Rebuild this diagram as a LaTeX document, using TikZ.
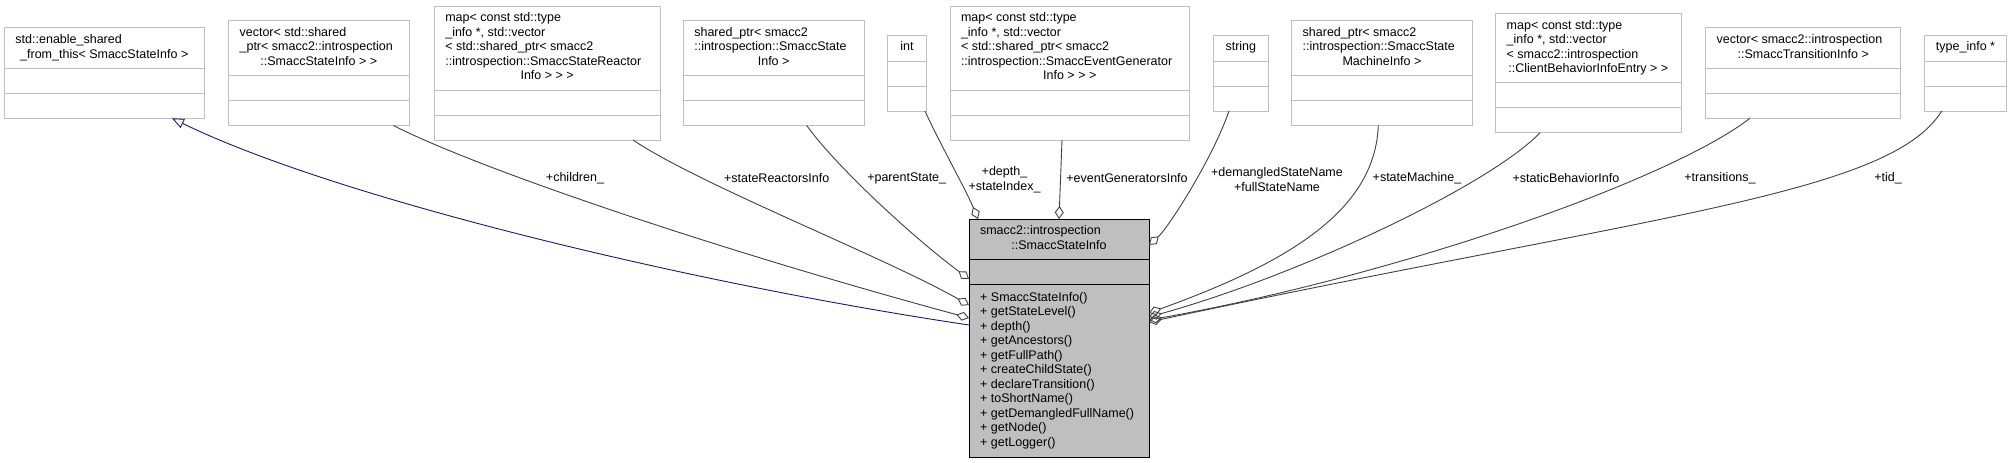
\documentclass[tikz,border=0pt]{standalone}
\usepackage{fontspec}
\setmainfont{Liberation Sans}
\usetikzlibrary{arrows.meta}
\definecolor{edgec}{HTML}{404040}
\definecolor{framec}{HTML}{BFBFBF}
\definecolor{mainfill}{HTML}{BFBFBF}
\definecolor{inhc}{HTML}{191970}
\newlength\hw
\newcommand\Ln[1]{\makebox[\hw][l]{#1}}
\newcommand\Cn[1]{\makebox[\hw][c]{#1}}
\newcommand\dfont{\fontsize{12.5}{14.5}\selectfont}
\tikzset{
  classbox/.style={draw=framec, line width=1pt, fill=white, inner sep=0pt, outer sep=0pt},
  mainbox/.style={draw=black, line width=1pt, fill=mainfill, inner sep=0pt, outer sep=0pt},
  sepline/.style={draw=framec, line width=1pt},
  mainsep/.style={draw=black, line width=1pt},
  hdr/.style={inner sep=0pt, font=\dfont, anchor=center},
  lbl/.style={inner sep=0pt, font=\dfont, align=center},
  assoc/.style={draw=edgec, line width=0.9pt, -{Diamond[open, length=13pt, width=9pt, line width=0.9pt]}},
  inherit/.style={draw=inhc, line width=0.9pt, -{Triangle[open, length=12pt, width=10pt, line width=0.9pt]}},
}
% #1 name, #2 x1, #3 x2, #4 number of header lines, #5 header text
\newcommand\umlbox[5]{%
  \pgfmathsetmacro\bt{42.25-7.25*#4}%
  \pgfmathsetmacro\bs{53.75+7.25*#4}%
  \pgfmathsetmacro\bb{103.75+7.25*#4}%
  \pgfmathsetmacro\bw{#3-#2}%
  \pgfmathsetmacro\bh{\bb-\bt}%
  \node[classbox, anchor=north west, minimum width=\bw pt, minimum height=\bh pt] (#1) at (#2,\bt) {};
  \draw[sepline] (#2,\bs) -- (#3,\bs);
  \draw[sepline] (#2,\bs+25) -- (#3,\bs+25);
  \node[hdr] at ({(#2+#3)/2},{(\bt+\bs)/2}) {\setlength\hw{\dimexpr\bw pt-22pt\relax}\begin{tabular}{@{}l@{}}#5\end{tabular}};
}
\begin{document}
\begin{tikzpicture}[x=1pt, y=-1pt]
\useasboundingbox (0,0) rectangle (2013,463);

\umlbox{b1}{4.5}{204}{2}{\Ln{std::enable\_shared}\\\Cn{\_from\_this< SmaccStateInfo >}}
\umlbox{b2}{228.6}{409}{3}{\Ln{vector< std::shared}\\\Ln{\_ptr< smacc2::introspection}\\\Cn{::SmaccStateInfo > >}}
\umlbox{b3}{434.3}{660}{5}{\Ln{map< const std::type}\\\Ln{\_info *, std::vector}\\\Ln{< std::shared\_ptr< smacc2}\\\Ln{::introspection::SmaccStateReactor}\\\Cn{Info > > >}}
\umlbox{b4}{683.3}{864}{3}{\Ln{shared\_ptr< smacc2}\\\Ln{::introspection::SmaccState}\\\Cn{Info >}}
\umlbox{b5}{887.3}{926.7}{1}{\Cn{int}}
\umlbox{b6}{950}{1189.5}{5}{\Ln{map< const std::type}\\\Ln{\_info *, std::vector}\\\Ln{< std::shared\_ptr< smacc2}\\\Ln{::introspection::SmaccEventGenerator}\\\Cn{Info > > >}}
\umlbox{b7}{1213.3}{1268.3}{1}{\Cn{string}}
\umlbox{b8}{1291.7}{1472.3}{3}{\Ln{shared\_ptr< smacc2}\\\Ln{::introspection::SmaccState}\\\Cn{MachineInfo >}}
\umlbox{b9}{1495.7}{1681}{4}{\Ln{map< const std::type}\\\Ln{\_info *, std::vector}\\\Ln{< smacc2::introspection}\\\Cn{::ClientBehaviorInfoEntry > >}}
\umlbox{b10}{1705.7}{1900.7}{2}{\Ln{vector< smacc2::introspection}\\\Cn{::SmaccTransitionInfo >}}
\umlbox{b11}{1924.3}{2006.7}{1}{\Cn{type\_info *}}

% main class
\node[mainbox, anchor=north west, minimum width=180pt, minimum height=238pt] (main) at (969,219) {};
\draw[mainsep] (969,259) -- (1149,259);
\draw[mainsep] (969,284.5) -- (1149,284.5);
\node[hdr] at (1059,239) {\setlength\hw{158pt}\begin{tabular}{@{}l@{}}\Ln{smacc2::introspection}\\\Cn{::SmaccStateInfo}\end{tabular}};
\node[hdr, anchor=west] at (980,370.75) {\setlength\hw{158pt}\begin{tabular}{@{}l@{}}\Ln{+ SmaccStateInfo()}\\\Ln{+ getStateLevel()}\\\Ln{+ depth()}\\\Ln{+ getAncestors()}\\\Ln{+ getFullPath()}\\\Ln{+ createChildState()}\\\Ln{+ declareTransition()}\\\Ln{+ toShortName()}\\\Ln{+ getDemangledFullName()}\\\Ln{+ getNode()}\\\Ln{+ getLogger()}\end{tabular}};

% connectors
\draw[inherit] ([yshift=-106pt]main.north west) .. controls (700,285) and (340,200) .. ([xshift=167.5pt]b1.south west);
\draw[assoc] ([xshift=164.9pt]b2.south west) .. controls (470,165) and (700,245) .. ([yshift=-99pt]main.north west);
\draw[assoc] ([xshift=198.7pt]b3.south west) .. controls (700,185) and (880,255) .. ([yshift=-86pt]main.north west);
\draw[assoc] ([xshift=123.4pt]b4.south west) .. controls (835,165) and (910,235) .. ([yshift=-60pt]main.north west);
\draw[assoc] ([xshift=37.7pt]b5.south west) .. controls (938,140) and (966,190) .. ([xshift=9pt]main.north west);
\draw[assoc] ([xshift=112pt]b6.south west) -- ([xshift=90pt]main.north west);
\draw[assoc] ([xshift=15.7pt]b7.south west) .. controls (1212,160) and (1168,228) .. ([yshift=-26pt]main.north east);
\draw[assoc] ([xshift=86.6pt]b8.south west) .. controls (1375,210) and (1290,262) .. ([yshift=-94pt]main.north east);
\draw[assoc] ([xshift=44.3pt]b9.south west) .. controls (1490,185) and (1300,275) .. ([yshift=-98pt]main.north east);
\draw[assoc] ([xshift=44.3pt]b10.south west) .. controls (1670,180) and (1400,275) .. ([yshift=-101pt]main.north east);
\draw[assoc] ([xshift=17.4pt]b11.south west) .. controls (1890,195) and (1650,215) .. ([yshift=-103pt]main.north east);

% labels
\node[lbl] (lchildren) at (575,178) {+children\_};
\node[lbl] (lreact) at (776.7,178) {+stateReactorsInfo};
\node[lbl] (lparent) at (906.7,178) {+parentState\_};
\node[lbl] (ldepth) at (1004.5,179.5) {+depth\_\\+stateIndex\_};
\node[lbl] (levent) at (1127,178) {+eventGeneratorsInfo};
\node[lbl] (ldem) at (1277,179.5) {+demangledStateName\\+fullStateName};
\node[lbl] (lsm) at (1417,178) {+stateMachine\_};
\node[lbl] (lsb) at (1566,178) {+staticBehaviorInfo};
\node[lbl] (ltr) at (1720,178) {+transitions\_};
\node[lbl] (ltid) at (1888,178) {+tid\_};
\end{tikzpicture}
\end{document}
